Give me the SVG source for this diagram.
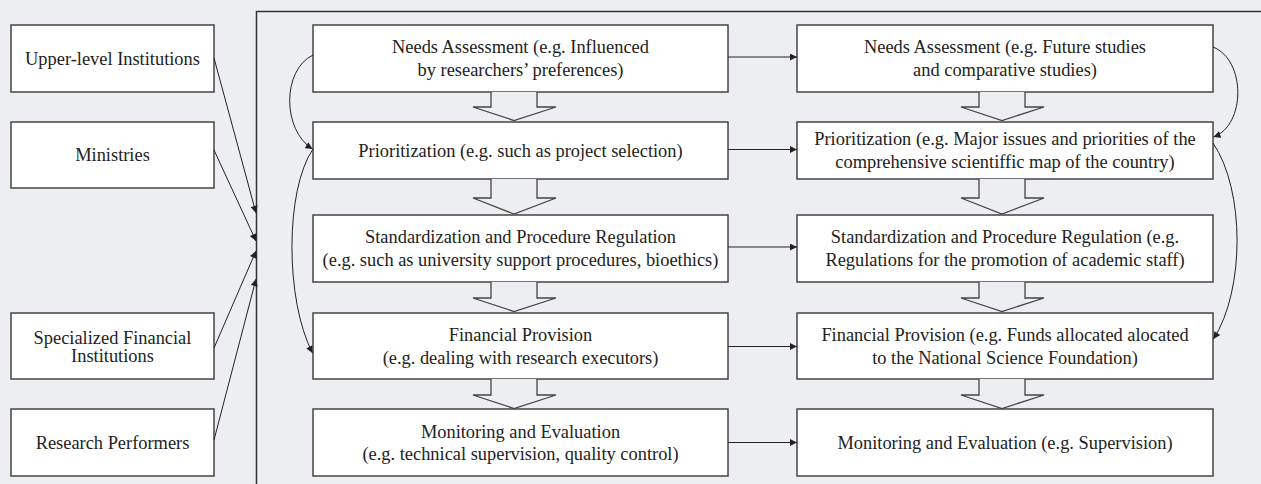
<svg xmlns="http://www.w3.org/2000/svg" width="1261" height="484" viewBox="0 0 1261 484">
<defs>
<marker id="ah" viewBox="0 0 10 10" refX="10" refY="5" markerWidth="9" markerHeight="7" markerUnits="userSpaceOnUse" orient="auto"><path d="M0,0 L10,5 L0,10 z" fill="#222"/></marker>
<style>
.bg{fill:#edeef2}
.box{fill:#fff;stroke:#444;stroke-width:1.5}
.frame{fill:none;stroke:#333;stroke-width:1.5}
.t{font-family:"Liberation Serif","Times New Roman",serif;font-size:18.4px;fill:#222;text-anchor:middle}
.ln{fill:none;stroke:#222;stroke-width:1;marker-end:url(#ah)}
.blk{fill:#edeef2;stroke:#444;stroke-width:1.3}
</style>
</defs>
<rect class="bg" x="0" y="0" width="1261" height="484"/>
<path class="frame" d="M256.5,490 V11.5 H1265"/>

<g id="upper-level"><rect class="box" x="11" y="25" width="203" height="67"/><text class="t" x="112.5" y="64.5">Upper-level Institutions</text></g>
<g id="ministries"><rect class="box" x="11" y="122" width="203" height="66"/><text class="t" x="112.5" y="161">Ministries</text></g>
<g id="specialized"><rect class="box" x="11" y="313" width="203" height="66"/><text class="t" x="112.5" y="343.5">Specialized Financial</text><text class="t" x="112.5" y="362">Institutions</text></g>
<g id="performers"><rect class="box" x="11" y="409" width="203" height="67"/><text class="t" x="112.5" y="448.5">Research Performers</text></g>

<g id="c1"><rect class="box" x="313" y="25" width="415" height="67"/><text class="t" x="520.5" y="53">Needs Assessment (e.g. Influenced</text><text class="t" x="520.5" y="76">by researchers’ preferences)</text></g>
<g id="c2"><rect class="box" x="313" y="122" width="415" height="57"/><text class="t" x="520.5" y="156.5">Prioritization (e.g. such as project selection)</text></g>
<g id="c3"><rect class="box" x="313" y="215" width="415" height="67"/><text class="t" x="520.5" y="243">Standardization and Procedure Regulation</text><text class="t" x="520.5" y="265.5">(e.g. such as university support procedures, bioethics)</text></g>
<g id="c4"><rect class="box" x="313" y="313" width="415" height="66"/><text class="t" x="520.5" y="341">Financial Provision</text><text class="t" x="520.5" y="363.5">(e.g. dealing with research executors)</text></g>
<g id="c5"><rect class="box" x="313" y="409" width="415" height="67"/><text class="t" x="520.5" y="437.5">Monitoring and Evaluation</text><text class="t" x="520.5" y="460">(e.g. technical supervision, quality control)</text></g>

<g id="r1"><rect class="box" x="797" y="25" width="416" height="67"/><text class="t" x="1005" y="53">Needs Assessment (e.g. Future studies</text><text class="t" x="1005" y="76">and comparative studies)</text></g>
<g id="r2"><rect class="box" x="797" y="122" width="416" height="57"/><text class="t" x="1005" y="145">Prioritization (e.g. Major issues and priorities of the</text><text class="t" x="1005" y="167.5">comprehensive scientiffic map of the country)</text></g>
<g id="r3"><rect class="box" x="797" y="215" width="416" height="67"/><text class="t" x="1005" y="243">Standardization and Procedure Regulation (e.g.</text><text class="t" x="1005" y="265.5">Regulations for the promotion of academic staff)</text></g>
<g id="r4"><rect class="box" x="797" y="313" width="416" height="66"/><text class="t" x="1005" y="341">Financial Provision (e.g. Funds allocated alocated</text><text class="t" x="1005" y="363.5">to the National Science Foundation)</text></g>
<g id="r5"><rect class="box" x="797" y="409" width="416" height="67"/><text class="t" x="1005" y="448.5">Monitoring and Evaluation (e.g. Supervision)</text></g>

<g id="connectors">
<path class="blk" d="M491,92 V107 H473 L514,120.5 L556,107 H537 V92"/>
<path class="blk" d="M491,179 V198 H473 L514,214 L556,198 H537 V179"/>
<path class="blk" d="M491,282 V298 H473 L514,311.5 L556,298 H537 V282"/>
<path class="blk" d="M491,379 V395 H473 L514,408.5 L556,395 H537 V379"/>
<path class="blk" d="M979,92 V107 H961 L1002,120.5 L1044,107 H1025 V92"/>
<path class="blk" d="M979,179 V198 H961 L1002,214 L1044,198 H1025 V179"/>
<path class="blk" d="M979,282 V298 H961 L1002,311.5 L1044,298 H1025 V282"/>
<path class="blk" d="M979,379 V395 H961 L1002,408.5 L1044,395 H1025 V379"/>

<path class="ln" d="M728,57 H797"/>
<path class="ln" d="M728,149.5 H797"/>
<path class="ln" d="M728,247 H797"/>
<path class="ln" d="M728,346.5 H797"/>
<path class="ln" d="M728,442.5 H797"/>

<path class="ln" d="M214,58 L256,213"/>
<path class="ln" d="M214,150 L256,241"/>
<path class="ln" d="M214,348 L256,251"/>
<path class="ln" d="M214,440 L256,279"/>

<path class="ln" d="M313,55 C282,70 282,130 312.5,149"/>
<path class="ln" d="M313,149 C285,190 285,300 312.5,353"/>
<path class="ln" d="M1213,47 C1246,60 1246,125 1213.5,137"/>
<path class="ln" d="M1213,143 C1245,190 1245,290 1213.5,339"/>
</g>
</svg>
